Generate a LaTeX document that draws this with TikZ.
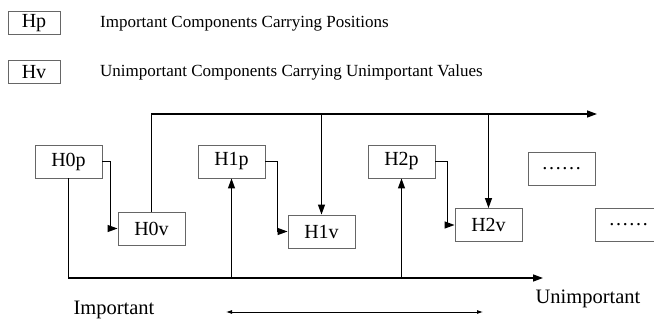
\documentclass[tikz,border=0pt]{standalone}
\usepackage{fontspec}
\setmainfont{Liberation Serif}
\usetikzlibrary{arrows.meta}
\begin{document}
\begin{tikzpicture}[x=1pt, y=-1pt,
        hbox/.style={rectangle, draw=gray!80!black, line width=0.9pt, minimum width=67pt, minimum height=33pt, inner sep=0pt, font=\fontsize{20}{24}\selectfont},
        keybox/.style={rectangle, draw=gray!80!black, line width=0.9pt, minimum width=52pt, minimum height=23pt, inner sep=0pt, font=\fontsize{20}{24}\selectfont},
        keytext/.style={anchor=west, inner sep=0pt, font=\fontsize{17}{20}\selectfont},
        lbl/.style={inner sep=0pt, font=\fontsize{20.5}{24}\selectfont},
        arrow/.style={-{Triangle[length=10pt, width=7pt]}, line width=1.3pt},
        span/.style={{Latex[length=6pt, width=4pt]}-{Latex[length=6pt, width=4pt]}, line width=0.8pt}
    ]
        \useasboundingbox (0,0) rectangle (654,321);

        % Legend
        \node[keybox] (kp) at (34, 23) {Hp};
        \node[keytext] (kpt) at (100, 24) {Important Components Carrying Positions};
        \node[keybox] (kv) at (34, 72) {Hv};
        \node[keytext] (kvt) at (100, 72) {Unimportant Components Carrying Unimportant Values};

        % Components
        \node[hbox] (h0p) at (68.5, 161.5) {H0p};
        \node[hbox] (h0v) at (151.5, 228.5) {H0v};
        \node[hbox] (h1p) at (231.5, 161.5) {H1p};
        \node[hbox] (h1v) at (321.5, 231.5) {H1v};
        \node[hbox] (h2p) at (401.5, 161.5) {H2p};
        \node[hbox] (h2v) at (488.5, 225) {H2v};
        \node[hbox] (d1) at (561.5, 168.5) {……};
        \node[hbox] (d2) at (628.5, 225) {……};

        % Ends of the two long lines
        \coordinate (topend) at (597, 114);
        \coordinate (botend) at (543, 278);

        % Position to value
        \draw[arrow] (h0p.east) -- ++(8,0) |- (h0v.west);
        \draw[arrow] (h1p.east) -- ++(12,0) |- (h1v.west);
        \draw[arrow] (h2p.east) -- ++(12,0) |- (h2v.west);

        % Top line
        \draw[arrow] (h0v.north) |- (topend);
        \draw[arrow] (h1v.north |- topend) -- (h1v.north);
        \draw[arrow] (h2v.north |- topend) -- (h2v.north);

        % Bottom line
        \draw[arrow] (h0p.south) |- (botend);
        \draw[arrow] (h1p.south |- botend) -- (h1p.south);
        \draw[arrow] (h2p.south |- botend) -- (h2p.south);

        % Scale
        \node[lbl] (imp) at (114, 310) {Important};
        \node[lbl] (unimp) at (588, 299) {Unimportant};
        \coordinate (sl) at (226, 312);
        \coordinate (sr) at (483, 312);
        \draw[span] (sl) -- (sr);
    \end{tikzpicture}
\end{document}
